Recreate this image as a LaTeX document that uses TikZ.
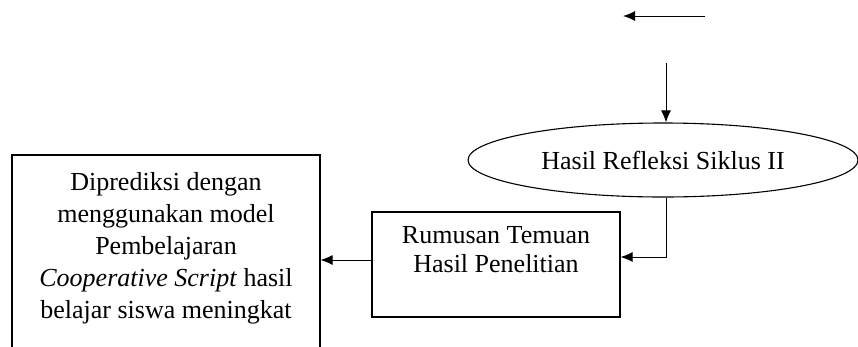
\documentclass[tikz,border=0pt]{standalone}
\usepackage{fontspec}
\setmainfont{Liberation Serif}
\usetikzlibrary{shapes.geometric,arrows.meta}
\begin{document}
\begin{tikzpicture}[x=1pt,y=-1pt,
 box/.style={draw,line width=1.1pt,rectangle,inner sep=0pt},
 conn/.style={line width=1pt,-{Latex[length=12pt,width=10pt]}},
 lbl/.style={font=\fontsize{26}{32}\selectfont,align=center,inner sep=0pt}]
\useasboundingbox (0,0) rectangle (858,346);
\clip (0,0) rectangle (858,346);
% nodes
\node[draw, ellipse, line width=1.1pt, minimum width=390pt, minimum height=74pt, inner sep=0pt,
      font=\fontsize{26}{30}\selectfont] (refl) at (663,160) {Hasil Refleksi Siklus II};
\node[box, minimum width=248pt, minimum height=105pt] (rum) at (496,264.5) {};
\node[lbl, font=\fontsize{26}{29}\selectfont, anchor=north] (rumtxt) at ([yshift=-14.5pt]rum.north) {Rumusan Temuan\\Hasil Penelitian};
\node[box, minimum width=308pt, minimum height=245pt] (pred) at (166,277.5) {};
\node[lbl, anchor=north] (predtxt) at ([yshift=-18pt]pred.north) {Diprediksi dengan\\menggunakan model\\Pembelajaran\\\textit{Cooperative Script} hasil\\belajar siswa meningkat};
% free ends
\coordinate (t1) at (705,16);
\coordinate (t2) at (623,16);
\coordinate (v1) at (666,63);
% connectors
\draw[conn] (t1) -- (t2);
\draw[conn] (v1) -- (v1 |- refl.north);
\draw[conn] ([xshift=3pt]refl.south) |- ([yshift=7.5pt]rum.east);
\draw[conn] ([yshift=4.5pt]rum.west) -- ([yshift=4.5pt]rum.west -| pred.east);
\end{tikzpicture}
\end{document}
